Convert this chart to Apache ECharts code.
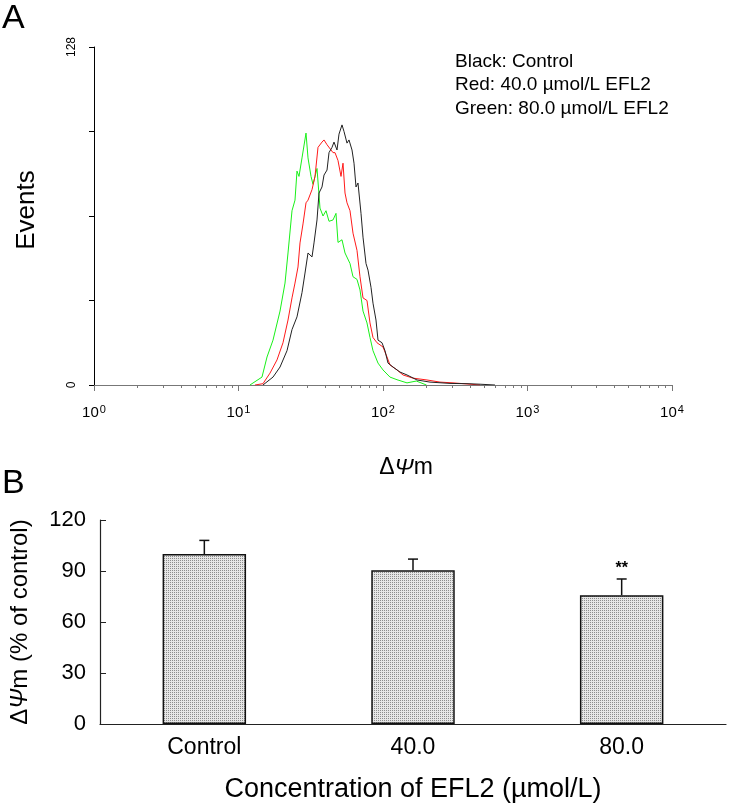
<!DOCTYPE html>
<html><head><meta charset="utf-8">
<script src="https://cdn.jsdelivr.net/npm/echarts@6/dist/echarts.min.js"></script>
<style>html,body{margin:0;padding:0;background:#fff}#c{width:730px;height:805px}</style>
</head><body><div id="c"></div>
<script>
// ---------- Panel A: flow cytometry histograms (x = fluorescence intensity, y = events)
const blackX = [14.77, 17.33, 19.38, 21.66, 23.46, 25.40, 27.51, 28.86, 30.27, 32.27, 33.31, 34.94, 36.07, 37.84, 39.06, 40.98, 42.30, 44.38, 45.80, 48.05, 49.60, 52.04, 53.72, 56.35, 58.17, 61.03, 63.0, 65.04, 67.14, 70.44, 72.71, 76.27, 78.74, 82.60, 85.26, 89.44, 92.35, 98.42, 103.2, 108.3, 117.3, 131.1, 146.6, 171.9, 211.5, 290.9, 381.3, 469.2, 595.7];
const blackY = [0, 3, 6.8, 13, 21, 25.8, 35, 42.4, 50, 48.5, 53.8, 62.5, 72.7, 75, 79.5, 81.4, 88, 90, 92, 89, 95, 98.5, 96, 91.6, 92.8, 89, 84, 75, 76.5, 65, 56, 46, 43.5, 37, 31, 24.6, 17, 16, 13, 8.3, 6.8, 4.9, 3.8, 1.9, 1.1, 0.6, 0.5, 0.3, 0];
const redX = [13.0, 14.77, 16.52, 18.47, 20.32, 22.01, 23.46, 24.60, 25.81, 26.65, 27.95, 29.32, 30.27, 32.27, 33.84, 35.50, 37.84, 39.06, 40.98, 42.30, 45.08, 46.54, 48.82, 51.21, 52.87, 54.58, 56.35, 59.11, 62.01, 66.07, 69.31, 72.71, 77.49, 81.28, 85.26, 90.88, 100, 106.6, 111.8, 125.0, 137.5, 161.3, 201.6, 248.0, 305.1, 381.3, 469.2];
const redY = [0, 0.5, 4.5, 9.5, 16, 24.6, 33, 38.6, 44.7, 53.8, 61, 69, 70, 74, 79, 90, 92, 92.8, 91, 91.6, 88, 88, 85, 79, 84, 72.7, 69, 66, 57.5, 51, 41, 33, 32, 23.5, 18, 16, 14.4, 10.6, 7.6, 5.7, 3.8, 2.6, 1.9, 1.1, 0.8, 0.4, 0];
const greenX = [12.0, 14.54, 15.75, 17.33, 19.38, 20.98, 22.01, 23.46, 24.60, 25.40, 26.22, 27.51, 29.32, 30.27, 31.76, 32.78, 34.94, 36.64, 38.45, 40.33, 42.30, 45.08, 47.28, 48.82, 52.04, 54.58, 59.11, 62.01, 66.07, 69.31, 72.71, 77.49, 81.28, 85.26, 92.35, 100, 111.8, 125.0, 146.6, 170, 200];
const greenY = [0, 3, 10.6, 17, 28, 38.6, 50, 66, 70, 81, 79, 86, 95.4, 86, 79, 76, 82, 67, 64, 66, 62, 62.5, 65, 54, 55, 50, 46, 41, 40, 36, 28, 23.5, 18, 13, 8.3, 5.7, 3, 2, 0.8, 1.5, 0];
const seriesNames = ['Black: Control', 'Red: 40.0 µmol/L EFL2', 'Green: 80.0 µmol/L EFL2'];
const decadeTicks = [1, 10, 100, 1000, 10000];
const decadeExp = ['0', '1', '2', '3', '4'];
const minorTicks = [];
for (let d = 1; d < 10000; d *= 10) for (let k = 2; k <= 9; k++) minorTicks.push(k * d);

// ---------- Panel B: bar chart
const cats = ['Control', '40.0', '80.0'];
const means = [100, 90.5, 75.8];
const sds = [8, 6.5, 9.5];
const sig = ['', '', '**'];

const FONT = '"Liberation Sans", Arial, sans-serif';
const zip = (xs, ys) => xs.map((x, i) => [x, ys[i]]);

// stipple pattern
const pc = document.createElement('canvas');
pc.width = 2; pc.height = 2;
const pctx = pc.getContext('2d');
pctx.fillStyle = '#e6e6e6'; pctx.fillRect(0, 0, 2, 2);
pctx.fillStyle = '#8c8c8c'; pctx.fillRect(0, 0, 1, 1);

const chart = echarts.init(document.getElementById('c'), null, {renderer: 'canvas'});
const gridA = {left: 94, top: 47, width: 578, height: 338};
chart.setOption({
  backgroundColor: '#fff',
  animation: false,
  textStyle: {fontFamily: FONT},
  grid: [
    Object.assign({}, gridA),
    {left: 93, top: 520, width: 633, height: 204},
    Object.assign({}, gridA)
  ],
  legend: {
    data: seriesNames, orient: 'vertical', left: 445, top: 47,
    itemWidth: 0, itemHeight: 0, itemGap: 4.5, icon: 'rect',
    textStyle: {fontFamily: FONT, fontSize: 19, color: '#000', lineHeight: 19},
    selectedMode: false
  },
  xAxis: [
    {gridIndex: 0, type: 'log', logBase: 10, min: 1, max: 10000,
      axisLine: {lineStyle: {color: '#777', width: 1}},
      axisTick: {customValues: decadeTicks, length: 6, lineStyle: {color: '#777'}},
      axisLabel: {customValues: decadeTicks, margin: 19, color: '#000', fontSize: 15,
        formatter: v => '10{s|' + decadeExp[decadeTicks.indexOf(v)] + '}',
        rich: {s: {fontSize: 11, verticalAlign: 'top', padding: [0, 0, 7, 1]}}},
      splitLine: {show: false}},
    {gridIndex: 1, type: 'category', data: cats,
      axisLine: {lineStyle: {color: '#222', width: 1.2}},
      axisTick: {inside: true, length: 7, lineStyle: {color: '#222'}},
      axisLabel: {margin: 12, color: '#000', fontSize: 23},
      name: 'Concentration of EFL2 (µmol/L)', nameLocation: 'middle', nameGap: 52,
      nameTextStyle: {fontSize: 27, color: '#000'}},
    {gridIndex: 2, type: 'log', logBase: 10, min: 1, max: 10000,
      axisLine: {show: false},
      axisTick: {customValues: minorTicks, length: 3, lineStyle: {color: '#777'}},
      axisLabel: {show: false}, splitLine: {show: false}}
  ],
  yAxis: [
    {gridIndex: 0, type: 'value', min: 0, max: 128, interval: 32,
      axisLine: {show: true, lineStyle: {color: '#000', width: 1}},
      axisTick: {show: true, length: 5, lineStyle: {color: '#000'}},
      axisLabel: {customValues: [0, 128], rotate: 90, margin: 16, fontSize: 12, color: '#000'},
      splitLine: {show: false},
      name: 'Events', nameLocation: 'middle', nameGap: 54, nameRotate: 90,
      nameTextStyle: {fontSize: 26, color: '#000', padding: [0, 0, 0, 12]}},
    {gridIndex: 1, type: 'value', min: 0, max: 120, interval: 30,
      axisLine: {show: true, lineStyle: {color: '#222', width: 1.2}},
      axisTick: {show: true, inside: true, length: 6, lineStyle: {color: '#222'}},
      axisLabel: {margin: 14, fontSize: 22, color: '#000'},
      splitLine: {show: false},
      name: 'Δ{i|Ψ}m (% of control)', nameLocation: 'middle', nameGap: 68, nameRotate: 90,
      nameTextStyle: {fontSize: 24, color: '#000', rich: {i: {fontStyle: 'italic', fontSize: 24}}}},
    {gridIndex: 2, type: 'value', min: 0, max: 128, show: false}
  ],
  graphic: [
    {type: 'text', left: 2, top: 2, style: {text: 'A', font: '34px ' + FONT, fill: '#000'}},
    {type: 'text', left: 2, top: 467, style: {text: 'B', font: '34px ' + FONT, fill: '#000'}},
    {type: 'text', x: 406, y: 468, style: {text: 'Δ{i|Ψ}m', font: '23px ' + FONT, fill: '#000',
      align: 'center', verticalAlign: 'middle', rich: {i: {fontStyle: 'italic', fontSize: 23}}}}
  ],
  series: [
    {name: seriesNames[2], type: 'line', xAxisIndex: 0, yAxisIndex: 0, data: zip(greenX, greenY),
      showSymbol: false, symbol: 'none', color: '#19f019', lineStyle: {width: 1, color: '#19f019'}},
    {name: seriesNames[1], type: 'line', xAxisIndex: 0, yAxisIndex: 0, data: zip(redX, redY),
      showSymbol: false, symbol: 'none', color: '#ff1a1a', lineStyle: {width: 1, color: '#ff1a1a'}},
    {name: seriesNames[0], type: 'line', xAxisIndex: 0, yAxisIndex: 0, data: zip(blackX, blackY),
      showSymbol: false, symbol: 'none', color: '#222', lineStyle: {width: 1, color: '#222'}},
    {type: 'bar', xAxisIndex: 1, yAxisIndex: 1, data: means, barWidth: '40%',
      itemStyle: {color: {image: pc, repeat: 'repeat'}, borderColor: '#111', borderWidth: 1.5}},
    {type: 'custom', xAxisIndex: 1, yAxisIndex: 1, z: 5,
      data: means.map((m, i) => [i, m, sds[i]]),
      renderItem: (params, api) => {
        const i = api.value(0);
        const base = api.coord([i, api.value(1)]);
        const top = api.coord([i, api.value(1) + api.value(2)]);
        const children = [
          {type: 'line', shape: {x1: base[0], y1: base[1], x2: top[0], y2: top[1]},
            style: {stroke: '#111', lineWidth: 1.5}},
          {type: 'line', shape: {x1: top[0] - 5, y1: top[1], x2: top[0] + 5, y2: top[1]},
            style: {stroke: '#111', lineWidth: 1.5}}
        ];
        if (sig[i]) children.push({type: 'text', x: top[0], y: top[1] - 10,
          style: {text: sig[i], font: 'bold 16px ' + FONT, fill: '#000', align: 'center', verticalAlign: 'middle'}});
        return {type: 'group', children};
      }}
  ]
});
</script></body></html>
